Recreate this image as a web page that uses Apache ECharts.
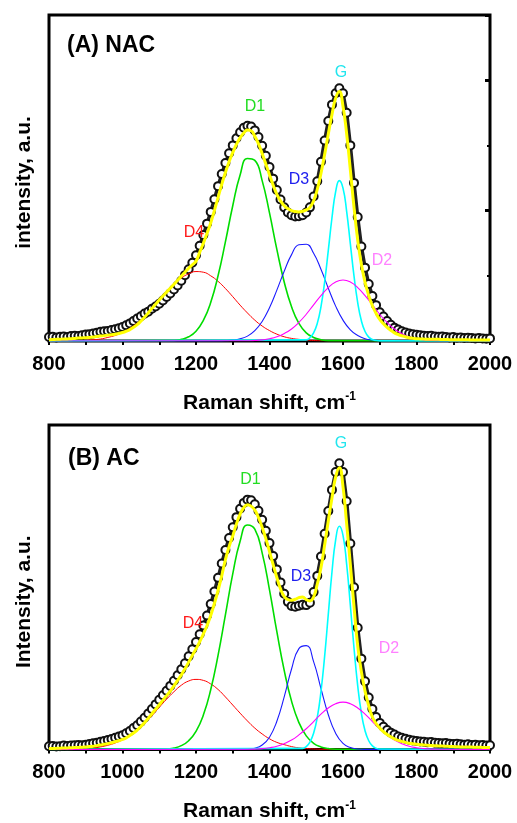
<!DOCTYPE html>
<html>
<head>
<meta charset="utf-8">
<script src="https://cdn.jsdelivr.net/npm/echarts@6/dist/echarts.min.js"></script>
<style>
html,body{margin:0;padding:0;background:#fff;}
#chart{width:517px;height:823px;}
</style>
</head>
<body>
<div id="chart"></div>
<script>
// ---------- DATA (intensity in arbitrary units, 0-100 scale) ----------
// raw data and fit sampled every 10 cm-1 from 800 to 2000
const RAW_GRID = [800, 10];

// Panel A (NAC)
const A_RAW = [
  1.2,1.3,1.1,1.3,1.4,1.2,1.5,1.6,1.5,1.8,
  2.0,2.1,2.3,2.5,2.8,3.0,3.1,3.4,3.6,3.9,
  4.3,4.8,5.4,6.1,6.9,7.6,8.4,9.0,9.9,10.6,
  11.4,12.4,13.5,14.6,15.8,17.0,18.5,20.2,22.0,24.0,
  26.3,29.2,32.5,36.0,39.6,43.5,47.5,51.2,54.6,57.6,
  60.0,62.2,64.0,65.4,66.0,65.8,64.6,62.6,59.9,56.8,
  53.4,49.8,46.3,43.4,41.0,39.4,38.6,38.2,38.3,38.6,
  39.4,41.0,44.3,49.0,55.0,61.5,67.5,72.5,76.0,77.5,
  76.0,70.0,60.0,48.5,38.0,29.0,22.5,17.5,13.8,11.0,
  8.8,7.5,6.1,5.0,4.1,3.5,3.0,2.6,2.3,2.1,
  1.9,1.8,1.6,1.5,1.6,1.4,1.3,1.4,1.2,1.1,
  1.2,1.0,1.1,0.9,1.0,0.9,0.8,0.9,0.8,0.7,
  0.8
];
const A_FIT = [
  0.4,0.45,0.5,0.55,0.6,0.65,0.7,0.8,0.9,0.95,
  1.0,1.1,1.2,1.35,1.5,1.65,1.8,1.95,2.1,2.3,
  2.6,3.0,3.5,4.2,5.0,6.1,7.3,8.6,10.0,11.3,
  12.6,13.8,15.0,16.2,17.4,18.6,19.9,21.1,22.3,23.4,
  24.5,27.2,30.0,33.0,36.2,40.0,44.0,48.0,51.7,55.0,
  57.8,60.3,62.3,63.8,64.7,64.5,62.8,60.5,57.5,54.3,
  51.0,47.8,45.0,43.0,41.5,40.6,40.0,39.7,39.6,39.8,
  40.2,41.0,43.0,46.5,51.4,57.2,63.5,69.5,74.5,76.5,
  72.0,63.5,52.5,41.0,31.0,23.5,18.0,14.0,10.8,8.5,
  6.6,5.3,4.2,3.3,2.5,2.0,1.6,1.3,1.0,0.85,
  0.7,0.65,0.6,0.55,0.55,0.5,0.5,0.45,0.45,0.4,
  0.4,0.4,0.35,0.35,0.35,0.3,0.3,0.3,0.3,0.3,
  0.3
];
// component bands: [start, step] and values
const A_D4_GRID = [860, 20];
const A_D4 = [0.05,0.1,0.2,0.4,0.6,1.1,1.7,2.6,3.9,5.5,7.4,9.8,12.3,14.8,17.3,19.3,20.6,21.3,21.1,20.0,18.3,16.1,13.6,11.0,8.6,6.4,4.6,3.2,2.1,1.3,0.8,0.5,0.3,0.15,0.08];
const A_D1_GRID = [1140, 20];
const A_D1 = [0.17,0.5,1.3,3.0,6.3,11.8,20.0,30.4,41.5,50.9,56.0,55.4,49.2,39.3,28.1,18.1,10.5,5.4,2.5,1.1,0.4,0.1];
const A_D3_GRID = [1260, 20];
const A_D3 = [0.03,0.09,0.26,0.67,1.5,3.2,6.0,10.2,15.6,21.4,26.5,29.5,29.7,26.9,22.0,16.2,10.7,6.4,3.4,1.7,0.7,0.3,0.1,0.03];
const A_G_GRID = [1500, 10];
const A_G = [0.36,1.0,2.5,5.4,10.5,18.1,27.8,37.8,45.8,49.2,46.9,39.7,29.8,19.9,11.8,6.2,2.9,1.2,0.44,0.15,0.05];
const A_D2_GRID = [1340, 20];
const A_D2 = [0.07,0.16,0.35,0.7,1.3,2.3,3.7,5.7,8.2,11.1,13.9,16.4,18.1,18.7,18.1,16.4,13.9,11.1,8.2,5.7,3.7,2.3,1.3,0.7,0.35,0.16,0.07];

// Panel B (AC)
const B_RAW = [
  1.0,1.1,0.9,1.0,1.2,1.1,1.2,1.3,1.4,1.3,
  1.5,1.7,1.9,2.1,2.4,2.6,2.9,3.2,3.6,4.0,
  4.4,5.0,5.7,6.6,7.5,8.6,9.8,11.1,12.5,13.9,
  15.3,16.7,18.1,19.6,21.2,22.9,24.7,26.6,28.7,30.9,
  33.1,35.5,38.2,41.3,44.8,48.7,52.9,57.3,61.5,65.2,
  68.5,71.6,74.2,76.0,77.0,76.8,75.6,73.6,70.8,67.4,
  63.6,59.6,55.5,51.5,48.0,45.5,44.2,44.0,44.3,44.6,
  44.5,45.2,48.5,53.5,59.5,66.5,73.5,80.0,85.5,88.2,
  85.5,76.5,63.5,50.0,37.5,28.0,21.0,16.0,12.5,10.0,
  8.2,7.0,6.0,5.2,4.6,4.0,3.6,3.3,3.0,2.8,
  2.6,2.5,2.4,2.2,2.3,2.1,2.0,1.9,2.0,1.8,
  1.7,1.8,1.6,1.5,1.6,1.4,1.5,1.3,1.4,1.2,
  1.3
];
const B_FIT = [
  0.3,0.3,0.35,0.4,0.45,0.5,0.55,0.6,0.65,0.7,
  0.8,0.9,1.0,1.2,1.4,1.6,1.8,2.1,2.4,2.7,
  3.1,3.6,4.3,5.1,6.0,7.1,8.3,9.6,11.0,12.4,
  13.8,15.2,16.6,18.0,19.6,21.3,23.0,24.9,26.9,29.0,
  31.0,33.2,35.6,38.2,41.3,45.0,49.0,53.5,58.5,62.5,
  65.8,69.5,72.5,74.5,75.4,75.0,73.8,71.5,68.5,65.0,
  61.0,57.0,53.0,49.5,47.2,46.2,46.0,46.3,46.8,47.0,
  46.2,45.8,47.0,51.0,56.0,63.0,70.5,77.5,84.0,86.8,
  81.0,69.5,57.0,44.0,32.0,24.0,18.0,13.5,10.0,8.0,
  6.6,5.5,4.6,3.9,3.3,2.8,2.5,2.2,1.95,1.75,
  1.6,1.5,1.4,1.3,1.2,1.15,1.1,1.05,1.0,0.95,
  0.9,0.85,0.8,0.8,0.75,0.75,0.7,0.7,0.65,0.65,
  0.6
];
const B_D4_GRID = [860, 20];
const B_D4 = [0.08,0.14,0.26,0.46,0.8,1.3,2.0,3.0,4.3,6.0,8.1,10.4,13.0,15.5,17.8,19.8,21.1,21.6,21.3,20.2,18.5,16.2,13.7,11.2,8.8,6.6,4.8,3.3,2.2,1.5,0.9,0.5,0.3,0.17,0.09];
const B_D1_GRID = [1120, 20];
const B_D1 = [0.17,0.46,1.2,2.7,5.6,10.6,18.4,29.0,41.5,54.1,64.2,69.2,67.9,60.6,49.2,36.3,24.4,14.9,8.3,4.2,1.9,0.8,0.3,0.1];
const B_D3_GRID = [1320, 20];
const B_D3 = [0.02,0.1,0.4,1.4,3.8,8.7,16.2,24.8,31.1,32.0,27.1,18.8,10.7,5.0,1.9,0.6,0.16,0.03];
const B_G_GRID = [1490, 10];
const B_G = [0.34,0.9,2.3,5.0,9.9,17.8,28.7,41.7,54.7,64.6,68.8,66.0,57.0,44.4,31.2,19.7,11.2,5.8,2.7,1.1,0.4,0.14];
const B_D2_GRID = [1340, 20];
const B_D2 = [0.06,0.13,0.27,0.55,1.0,1.8,2.9,4.5,6.4,8.6,10.9,12.8,14.1,14.6,14.1,12.8,10.9,8.6,6.4,4.5,2.9,1.8,1.0,0.55,0.27,0.13,0.06];

const X_TICKS = [800, 2000, 100];   // min, max, tick step (labels every 200)
const PEAK_NAMES = ['D4', 'D1', 'D3', 'G', 'D2'];

// ---------- RENDER ----------
const FONT = '"Liberation Sans", Arial, Helvetica, sans-serif';
const COLORS = { D4: '#ff0000', D1: '#00dd00', D3: '#1a1aff', G: '#00ffff', D2: '#ff00ff' };
const LABEL_COLORS = { D4: '#ff1a1a', D1: '#22dd22', D3: '#2020ee', G: '#22e5ee', D2: '#ff80ff' };
const WIDTHS = { D4: 1, D1: 1.6, D3: 1.1, G: 1.6, D2: 1.1 };

function pairs(grid, ys) { return ys.map((y, i) => [grid[0] + grid[1] * i, y]); }
function based(p) { return [[X_TICKS[0], 0]].concat(p, [[X_TICKS[1], 0]]); }

const chart = echarts.init(document.getElementById('chart'), null, { renderer: 'canvas' });

const GRID_TOPS = [15, 425];
const grids = GRID_TOPS.map(t => ({ left: 49, right: 27, top: t, height: 326, show: true,
  borderColor: '#000', borderWidth: 3, backgroundColor: 'transparent' }));

const xAxes = [0, 1].map(i => ({
  gridIndex: i, type: 'value', min: X_TICKS[0], max: X_TICKS[1], interval: X_TICKS[2],
  axisLine: { show: false },
  axisTick: { show: true, inside: false, length: 4, lineStyle: { width: 2, color: '#000' } },
  axisLabel: { margin: 13, fontFamily: FONT, fontWeight: 'bold', fontSize: 20, color: '#000',
    formatter: v => (v % 200 === 0 ? String(v) : '') },
  splitLine: { show: false },
  name: '{a|Raman shift, cm}{b|-1}', nameLocation: 'middle', nameGap: 50,
  nameTextStyle: { rich: {
    a: { fontFamily: FONT, fontWeight: 'bold', fontSize: 21, color: '#000', lineHeight: 24 },
    b: { fontFamily: FONT, fontWeight: 'bold', fontSize: 12, color: '#000', verticalAlign: 'top', lineHeight: 12 }
  } }
}));

const plainY = { type: 'value', min: 0, max: 100, axisLine: { show: false }, axisLabel: { show: false }, splitLine: { show: false } };
const yAxes = [
  Object.assign({}, plainY, { gridIndex: 0, position: 'left', axisTick: { show: false },
    name: 'intensity, a.u.', nameLocation: 'middle', nameGap: 14,
    nameTextStyle: { fontFamily: FONT, fontWeight: 'bold', fontSize: 21, color: '#000', padding: [0, 9, 0, 0] } }),
  Object.assign({}, plainY, { gridIndex: 0, position: 'right', interval: 40,
    axisTick: { show: true, inside: true, length: 5, lineStyle: { width: 3, color: '#000' } } }),
  Object.assign({}, plainY, { gridIndex: 0, position: 'right', interval: 20,
    axisTick: { show: true, inside: true, length: 3, lineStyle: { width: 2, color: '#000' } } }),
  Object.assign({}, plainY, { gridIndex: 1, position: 'left', axisTick: { show: false },
    name: 'Intensity, a.u.', nameLocation: 'middle', nameGap: 14,
    nameTextStyle: { fontFamily: FONT, fontWeight: 'bold', fontSize: 21, color: '#000', padding: [0, 29, 0, 0] } })
];

function panelSeries(xi, yi, raw, fit, comps) {
  const s = [];
  // raw spectrum: open circles joined by a dark trace
  s.push({ type: 'line', xAxisIndex: xi, yAxisIndex: yi, z: 2,
    showSymbol: true, showAllSymbol: true, symbol: 'emptyCircle', symbolSize: 8,
    lineStyle: { color: '#222', width: 3.5 },
    itemStyle: { color: '#111', borderColor: '#111', borderWidth: 1.3 },
    data: pairs(RAW_GRID, raw), silent: true });
  PEAK_NAMES.forEach(n => {
    s.push({ type: 'line', xAxisIndex: xi, yAxisIndex: yi, z: 3, name: n,
      showSymbol: false, symbol: 'none', smooth: 0.5,
      lineStyle: { color: COLORS[n], width: WIDTHS[n] },
      data: based(pairs(comps[n][0], comps[n][1])), silent: true });
  });
  s.push({ type: 'line', xAxisIndex: xi, yAxisIndex: yi, z: 4,
    showSymbol: false, symbol: 'none', smooth: 0.5,
    lineStyle: { color: '#ffff00', width: 3 },
    data: pairs(RAW_GRID, fit), silent: true });
  return s;
}

const series = []
  .concat(panelSeries(0, 0, A_RAW, A_FIT, { D4: [A_D4_GRID, A_D4], D1: [A_D1_GRID, A_D1], D3: [A_D3_GRID, A_D3], G: [A_G_GRID, A_G], D2: [A_D2_GRID, A_D2] }))
  .concat(panelSeries(1, 3, B_RAW, B_FIT, { D4: [B_D4_GRID, B_D4], D1: [B_D1_GRID, B_D1], D3: [B_D3_GRID, B_D3], G: [B_G_GRID, B_G], D2: [B_D2_GRID, B_D2] }));

function txt(text, x, y, color, size, bold, align) {
  return { type: 'text', x: x, y: y, z: 100, silent: true,
    style: { text: text, fill: color, font: (bold ? 'bold ' : '') + size + 'px ' + FONT,
      align: align || 'center', verticalAlign: 'middle' } };
}
const graphics = [
  txt('(A) NAC', 67, 46, '#000', 23, true, 'left'),
  txt('G', 341, 73, LABEL_COLORS.G, 16),
  txt('D1', 255, 106.5, LABEL_COLORS.D1, 16),
  txt('D3', 299, 180, LABEL_COLORS.D3, 16),
  txt('D4', 194, 233, LABEL_COLORS.D4, 16),
  txt('D2', 382, 260.5, LABEL_COLORS.D2, 16),
  txt('(B) AC', 68, 458.5, '#000', 23, true, 'left'),
  txt('G', 341, 443.5, LABEL_COLORS.G, 16),
  txt('D1', 250.5, 480, LABEL_COLORS.D1, 16),
  txt('D3', 301, 576.5, LABEL_COLORS.D3, 16),
  txt('D4', 193, 623.5, LABEL_COLORS.D4, 16),
  txt('D2', 389, 648.5, LABEL_COLORS.D2, 16)
];

chart.setOption({
  animation: false,
  backgroundColor: '#ffffff',
  grid: grids,
  xAxis: xAxes,
  yAxis: yAxes,
  series: series,
  graphic: graphics
});
</script>
</body>
</html>
